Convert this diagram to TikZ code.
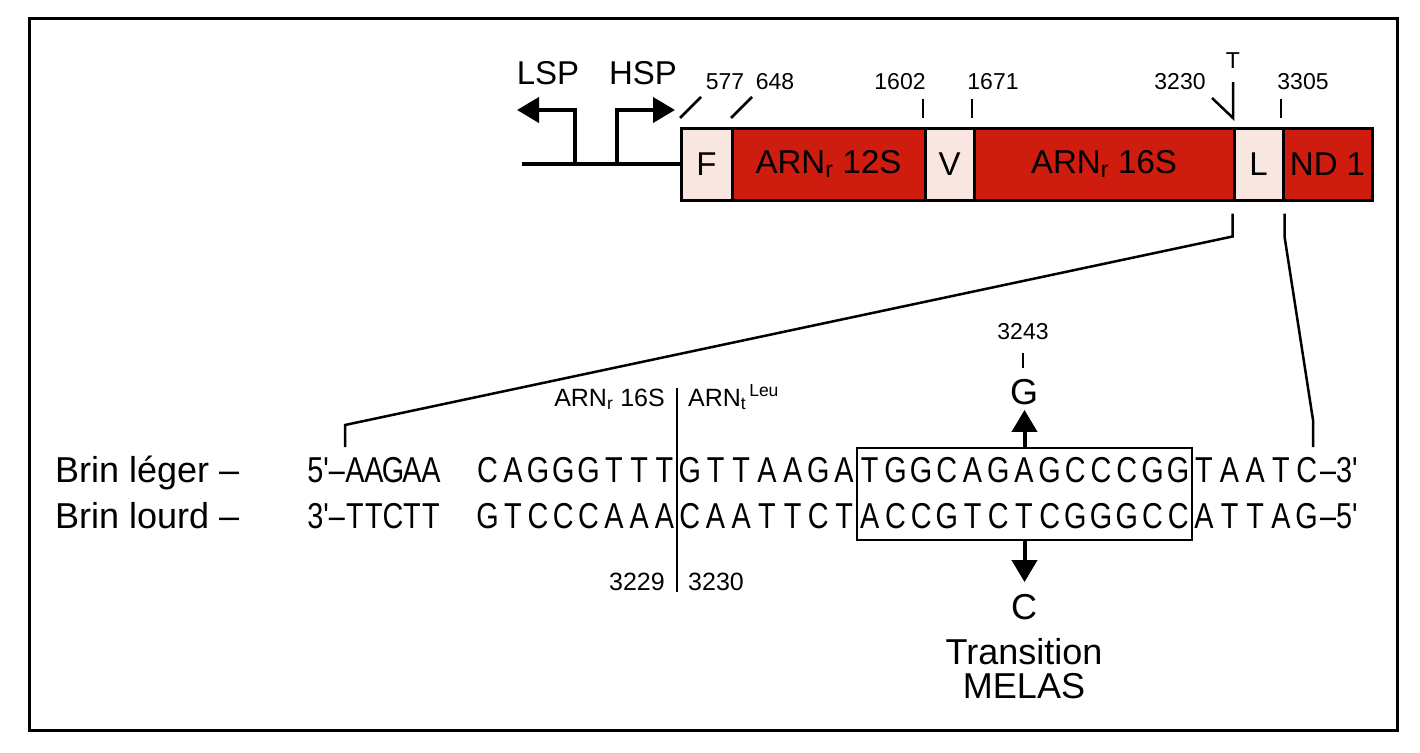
\documentclass[tikz,border=0pt]{standalone}
\usepackage{fontspec}
\setmainfont{Liberation Sans}
\newfontfamily\seqfont[FakeStretch=0.8]{Liberation Sans}
\usetikzlibrary{arrows.meta}

\definecolor{genered}{RGB}{206,28,14}
\definecolor{trnapink}{RGB}{250,230,224}

\begin{document}
\begin{tikzpicture}[
  x=1pt, y=-1pt,
  >={Triangle[length=22pt,width=25pt]},
  every node/.style={inner sep=0pt,font=\fontsize{33}{36}\selectfont},
  gene/.style={rectangle,draw,line width=3pt,fill=genered,minimum height=72pt},
  trna/.style={gene,fill=trnapink},
  pos label/.style={font=\fontsize{23}{26}\selectfont},
  small label/.style={font=\fontsize{25}{28}\selectfont},
  big label/.style={font=\fontsize{36}{40}\selectfont},
  nucleotide/.style={font=\seqfont\fontsize{36}{40}\selectfont,anchor=base},
  tick/.style={line width=2.5pt},
  zoom line/.style={line width=2.5pt},
  promoter/.style={->,line width=4pt},
  mutation/.style={->,line width=4pt},
]
\useasboundingbox (0,0) rectangle (1420,752);
\draw[line width=3pt] (29,19) rectangle (1397,730);

% genome map
\node[trna,minimum width=51pt] (F) at (706.5,164) {F};
\node[gene,minimum width=193pt] (r12S) at (828.5,164) {ARN\textsubscript{r} 12S};
\node[trna,minimum width=49pt] (V) at (949.5,164) {V};
\node[gene,minimum width=260pt] (r16S) at (1104,164) {ARN\textsubscript{r} 16S};
\node[trna,minimum width=49pt] (L) at (1258.5,164) {L};
\node[gene,minimum width=89pt] (ND1) at (1327.5,164) {ND 1};
\draw[line width=4pt] (F.west) -- ++(-158,0);

% promoters
\node (LSP) at (548,73) {LSP};
\node (HSP) at (643,73) {HSP};
\coordinate (lsp end) at (517,110);
\coordinate (hsp end) at (675,110);
\draw[promoter] (575,164) |- (lsp end);
\draw[promoter] (617,164) |- (hsp end);

% positions
\foreach \name/\xx in {577/725,648/775,1602/900,1671/993,3230/1180,3305/1303}
  \node[pos label] (p\name) at (\xx,82) {\name};
\node[pos label] (T) at (1233,61) {T};
\draw[tick] (680,118) -- ++(21,-21);
\draw[tick] (731,118) -- ++(21,-21);
\foreach \xx in {923,972,1281}
  \draw[tick] (\xx,118) -- (\xx,99);
\draw[tick] (1212,98) -- (1233,118) -- (1233,82);

% zoom on the tRNA Leu gene
\draw[zoom line] ([yshift=-12pt]L.south west) -- ++(0,23) -- (345,425) -- (345,447);
\draw[zoom line] ([yshift=-12pt]L.south east) -- ++(0,23) -- (1313,420) -- (1313,447);

% both strands
\node[big label,anchor=base west] (leger) at (55,482) {Brin léger –};
\node[big label,anchor=base west] (lourd) at (55,528) {Brin lourd –};
\foreach \up/\dn [count=\i from 0] in {A/T,A/T,G/C,A/T,A/T,C/G,A/T,G/C,G/C,G/C,T/A,T/A,T/A,
    G/C,T/A,T/A,A/T,A/T,G/C,A/T,
    T/A,G/C,G/C,C/G,A/T,G/C,A/T,G/C,C/G,C/G,C/G,G/C,G/C,
    T/A,A/T,A/T,T/A,C/G}{
  \pgfmathsetmacro\xx{\i<5 ? 355+19*\i : (\i<13 ? 487.6+25.25*(\i-5) : 689.85+25.7*(\i-13))}
  \node[nucleotide] (leg\i) at (\xx,482) {\up};
  \node[nucleotide] (lou\i) at (\xx,528) {\dn};
}
\node[nucleotide,anchor=base east] (leg5p) at (345,482) {5'–};
\node[nucleotide,anchor=base east] (lou3p) at (345,528) {3'–};
\node[nucleotide,anchor=base west] (leg3p) at (1320,482) {–3'};
\node[nucleotide,anchor=base west] (lou5p) at (1320,528) {–5'};

% 16S / tRNA boundary
\draw[line width=2pt] (677,388) -- (677,592);
\node[small label,anchor=base east] (rrna) at (665,406) {ARN\textsubscript{r} 16S};
\node[small label,anchor=base west] (trna) at (688,406) {ARN\textsubscript{t}\textsuperscript{\,Leu}};
\node[small label,anchor=base east] (p3229) at (665,590) {3229};
\node[small label,anchor=base west] (p3230b) at (688,590) {3230};

% MELAS mutation
\node[draw,line width=2pt,minimum width=335pt,minimum height=92pt] (motif) at (1024.5,494) {};
\node[pos label] (p3243) at (1023,332) {3243};
\draw[tick] (1023,353) -- (1023,368);
\node[big label] (G) at (1024,392) {G};
\node[big label] (C) at (1024,607) {C};
\node[big label] (trans) at (1024,652) {Transition};
\node[big label] (melas) at (1024,686) {MELAS};
\draw[mutation,shorten >=5pt] (motif.north) -- (motif.north |- G.south);
\draw[mutation,shorten >=12pt] (motif.south) -- (motif.south |- C.north);
\end{tikzpicture}
\end{document}
